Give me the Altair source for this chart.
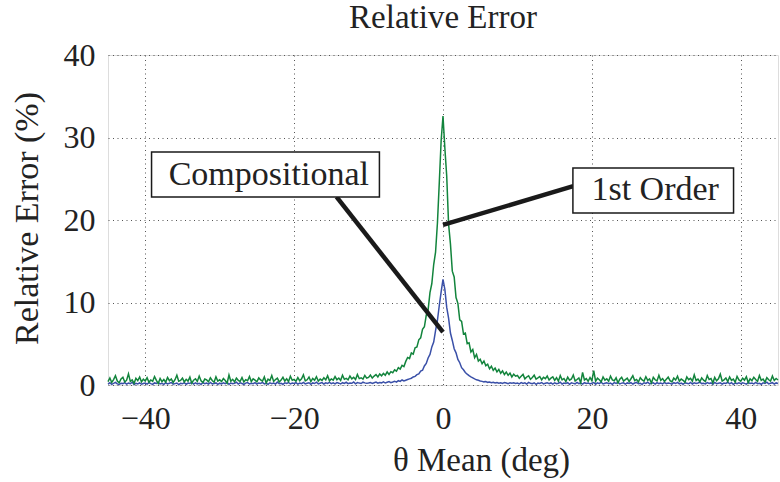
import altair as alt
import pandas as pd

chart_title = ["Relative Error"]

# sample positions (deg), step 0.25 from -45 to 45
theta = [-45 + 0.25 * i for i in range(361)]

# 1st Order relative error (%)
first_order = [
    0.42, 0.85, 0.31, 0.66, 1.12, 0.48, 0.27, 0.74, 0.93, 0.36,
    0.58, 1.35, 0.44, 0.62, 0.19, 0.81, 0.53, 0.97, 0.38, 0.71,
    0.49, 0.88, 0.33, 0.61, 0.45, 1.02, 0.57, 0.18, 0.79, 0.41,
    0.67, 0.35, 0.92, 0.52, 0.73, 0.31, 0.64, 1.18, 0.46, 0.55,
    0.83, 0.37, 0.69, 0.47, 0.95, 0.22, 0.58, 0.76, 0.43, 1.08,
    0.51, 0.29, 0.72, 0.62, 0.39, 0.87, 0.54, 0.34, 0.99, 0.48,
    0.63, 0.41, 0.78, 0.55, 0.23, 1.21, 0.46, 0.69, 0.38, 0.84,
    0.57, 0.44, 0.91, 0.36, 0.65, 0.52, 1.04, 0.42, 0.74, 0.59,
    0.39, 0.86, 0.61, 0.47, 0.98, 0.25, 0.71, 0.54, 1.15, 0.43,
    0.66, 0.82, 0.37, 0.59, 0.93, 0.48, 0.76, 0.41, 1.06, 0.57,
    0.68, 0.45, 0.89, 0.52, 0.74, 1.24, 0.49, 0.63, 0.96, 0.41,
    0.79, 0.58, 1.01, 0.46, 0.72, 0.55, 0.87, 0.62, 1.13, 0.51,
    0.73, 0.58, 1.02, 0.64, 0.85, 0.56, 1.18, 0.69, 0.81, 0.62,
    1.09, 0.74, 0.93, 0.66, 1.27, 0.78, 0.88, 0.71, 1.15, 0.84,
    0.92, 1.21, 0.84, 1.08, 1.26, 0.97, 1.34, 1.12, 1.41, 1.19,
    1.58, 1.28, 1.62, 1.49, 1.84, 1.67, 2.11, 1.93, 2.38, 2.24,
    2.86, 3.34, 3.21, 3.88, 3.74, 4.52, 4.61, 5.48, 5.72, 6.74,
    7.06, 8.45, 9.12, 11.2, 12.3, 14.6, 16.1, 19.6, 24.5, 29.6,
    32.6, 28.7, 25.3, 19.5, 17.1, 13.8, 13.1, 10.6, 9.9, 7.9,
    7.7, 6.2, 6.3, 5.0, 5.1, 4.0, 4.3, 3.3, 3.7, 2.9,
    3.12, 2.58, 2.91, 2.34, 2.52, 1.96, 2.27, 1.78, 2.05, 1.59,
    1.88, 1.42, 1.71, 1.27, 1.56, 1.18, 1.44, 0.98, 1.31, 1.07,
    1.16, 0.82, 1.05, 1.28, 0.74, 0.97, 1.12, 0.69, 0.91, 1.19,
    0.72, 0.86, 1.03, 0.63, 0.94, 0.77, 1.09, 0.61, 0.83, 0.98,
    0.56, 0.88, 0.47, 1.14, 0.62, 0.79, 0.41, 0.95, 0.58, 0.73,
    1.21, 0.49, 0.67, 0.86, 0.28, 1.52, 0.61, 0.77, 0.44, 0.91,
    0.53, 1.75, 0.46, 0.82, 0.64, 0.39, 0.97, 0.58, 0.74, 0.45,
    1.08, 0.62, 0.51, 0.88, 0.26, 0.71, 0.94, 0.48, 0.66, 0.83,
    0.42, 0.76, 1.12, 0.54, 0.68, 0.37, 0.89, 0.61, 0.47, 1.01,
    0.57, 0.73, 0.24, 0.92, 0.63, 0.49, 1.17, 0.56, 0.78, 0.43,
    0.69, 0.95, 0.52, 0.38, 0.84, 0.61, 1.06, 0.45, 0.72, 0.57,
    0.33, 0.98, 0.64, 0.81, 0.47, 1.23, 0.55, 0.71, 0.39, 0.87,
    0.58, 0.43, 1.14, 0.67, 0.79, 0.26, 0.92, 0.51, 0.74, 1.31,
    0.48, 0.63, 0.85, 0.41, 0.97, 0.56, 0.72, 0.34, 1.05, 0.62,
    0.47, 0.83, 0.59, 1.01, 0.28, 0.76, 0.52, 0.94, 0.66, 0.44,
    1.16, 0.57, 0.71, 0.35, 0.89, 0.63, 0.48, 1.08, 0.55, 0.79,
    0.61,
]

# Compositional relative error (%)
compositional = [
    0.12, 0.27, 0.08, 0.19, 0.31, 0.14, 0.06, 0.22, 0.17, 0.29,
    0.10, 0.24, 0.15, 0.33, 0.07, 0.21, 0.13, 0.26, 0.09, 0.18,
    0.23, 0.11, 0.28, 0.16, 0.07, 0.25, 0.19, 0.32, 0.12, 0.20,
    0.08, 0.27, 0.14, 0.22, 0.30, 0.10, 0.17, 0.24, 0.06, 0.21,
    0.15, 0.29, 0.09, 0.23, 0.18, 0.34, 0.11, 0.26, 0.13, 0.20,
    0.07, 0.28, 0.16, 0.24, 0.10, 0.31, 0.14, 0.19, 0.25, 0.08,
    0.22, 0.13, 0.27, 0.17, 0.30, 0.09, 0.24, 0.15, 0.21, 0.33,
    0.11, 0.26, 0.18, 0.07, 0.23, 0.29, 0.12, 0.20, 0.16, 0.28,
    0.10, 0.25, 0.19, 0.31, 0.14, 0.22, 0.08, 0.27, 0.17, 0.24,
    0.12, 0.35, 0.15, 0.21, 0.09, 0.26, 0.18, 0.30, 0.13, 0.23,
    0.19, 0.28, 0.11, 0.24, 0.16, 0.32, 0.13, 0.21, 0.27, 0.09,
    0.25, 0.18, 0.34, 0.14, 0.22, 0.29, 0.12, 0.26, 0.20, 0.31,
    0.17, 0.27, 0.14, 0.30, 0.22, 0.12, 0.28, 0.19, 0.33, 0.16,
    0.25, 0.21, 0.36, 0.15, 0.29, 0.23, 0.18, 0.34, 0.26, 0.20,
    0.24, 0.31, 0.19, 0.28, 0.35, 0.22, 0.30, 0.26, 0.38, 0.24,
    0.33, 0.41, 0.29, 0.37, 0.46, 0.34, 0.52, 0.43, 0.61, 0.49,
    0.58, 0.66, 0.74, 0.82, 0.97, 1.05, 1.26, 1.34, 1.68, 1.79,
    2.31, 2.62, 3.28, 3.71, 4.62, 5.21, 6.58, 7.82, 9.64, 11.3,
    12.8, 11.6, 9.4, 8.1, 6.3, 5.4, 4.4, 3.9, 3.1, 2.7,
    2.1, 1.85, 1.52, 1.31, 1.13, 0.98, 0.86, 0.74, 0.63, 0.57,
    0.49, 0.44, 0.38, 0.41, 0.32, 0.36, 0.28, 0.33, 0.25, 0.30,
    0.22, 0.27, 0.19, 0.31, 0.24, 0.16, 0.28, 0.21, 0.26, 0.18,
    0.23, 0.14, 0.29, 0.18, 0.26, 0.11, 0.32, 0.20, 0.15, 0.27,
    0.09, 0.24, 0.19, 0.30, 0.13, 0.22, 0.28, 0.16, 0.25, 0.10,
    0.27, 0.15, 0.21, 0.33, 0.12, 0.24, 0.18, 0.29, 0.08, 0.26,
    0.20, 0.14, 0.31, 0.17, 0.23, 0.11, 0.28, 0.19, 0.25, 0.13,
    0.22, 0.30, 0.10, 0.26, 0.17, 0.34, 0.13, 0.21, 0.28, 0.16,
    0.24, 0.09, 0.29, 0.19, 0.32, 0.14, 0.23, 0.27, 0.11, 0.25,
    0.18, 0.28, 0.12, 0.24, 0.31, 0.15, 0.21, 0.08, 0.27, 0.19,
    0.33, 0.14, 0.22, 0.26, 0.10, 0.29, 0.17, 0.23, 0.13, 0.30,
    0.16, 0.25, 0.20, 0.11, 0.28, 0.18, 0.32, 0.14, 0.23, 0.09,
    0.27, 0.21, 0.15, 0.30, 0.12, 0.26, 0.19, 0.24, 0.34, 0.17,
    0.21, 0.13, 0.29, 0.18, 0.25, 0.10, 0.31, 0.16, 0.22, 0.27,
    0.12, 0.24, 0.19, 0.33, 0.14, 0.28, 0.08, 0.23, 0.17, 0.26,
    0.15, 0.27, 0.20, 0.11, 0.29, 0.18, 0.24, 0.13, 0.31, 0.16,
    0.22, 0.09, 0.26, 0.19, 0.34, 0.14, 0.21, 0.28, 0.12, 0.25,
    0.18,
]

x_ticks = [-40, -20, 0, 20, 40]
y_ticks = [0, 10, 20, 30, 40]

# annotation boxes and leader lines (data units)
ann_labels = ["Compositional", "1st Order"]
ann_text_x = [-23.4, 28.5]
ann_text_y = [24.2, 22.4]
box_x1 = [-39.15, 17.45]
box_x2 = [-8.54, 39.03]
box_y1 = [22.79, 20.85]
box_y2 = [28.24, 26.30]
lead_x1 = [-14.3, 17.5]
lead_y1 = [22.8, 24.1]
lead_x2 = [0.0, 0.0]
lead_y2 = [6.4, 19.4]

FONT = "Liberation Serif"
INK = "#222222"

df_first = pd.DataFrame({"theta": theta, "err": first_order})
df_comp = pd.DataFrame({"theta": theta, "err": compositional})
df_box = pd.DataFrame({"theta": box_x1, "theta2": box_x2, "err": box_y1, "err2": box_y2})
df_lead = pd.DataFrame({"theta": lead_x1, "theta2": lead_x2, "err": lead_y1, "err2": lead_y2})
df_text = pd.DataFrame({"theta": ann_text_x, "err": ann_text_y, "label": ann_labels})
df_title = pd.DataFrame({"label": chart_title})

xs = alt.Scale(domain=[-45, 45], nice=False, zero=False)
ys = alt.Scale(domain=[0, 40], nice=False)

x_axis = alt.Axis(
    values=x_ticks, title="θ Mean (deg)", grid=True, gridColor="#555555",
    gridDash=[1, 3.5], gridWidth=1, ticks=False, domain=False,
    labelFont=FONT, labelFontSize=32, labelColor=INK, labelPadding=43,
    labelBaseline="alphabetic", labelFlush=False, labelOverlap=False,
    titleFont=FONT, titleFontSize=33, titleFontWeight="normal", titleColor=INK,
    titleX=373, titleY=85, titleBaseline="alphabetic", titleAlign="center",
)
y_axis = alt.Axis(
    values=y_ticks, title="Relative Error (%)", grid=True, gridColor="#555555",
    gridDash=[1, 3.5], gridWidth=1, ticks=False, domain=False,
    labelFont=FONT, labelFontSize=32, labelColor=INK, labelPadding=13,
    labelBaseline="middle", labelFlush=False, labelOverlap=False,
    titleFont=FONT, titleFontSize=34, titleFontWeight="normal", titleColor=INK,
    titleX=-71, titleY=163, titleAngle=270, titleBaseline="alphabetic", titleAlign="center",
)

X = alt.X("theta:Q", scale=xs, axis=x_axis)
Y = alt.Y("err:Q", scale=ys, axis=y_axis)

comp_line = alt.Chart(df_comp).mark_line(color="#3a50a8", strokeWidth=1.5).encode(x=X, y=Y)
first_line = alt.Chart(df_first).mark_line(color="#12843c", strokeWidth=1.5).encode(x=X, y=Y)

leads = alt.Chart(df_lead).mark_rule(color="#1a1a1a", strokeWidth=4.5).encode(
    x=X, x2="theta2:Q", y=Y, y2="err2:Q"
)
boxes = alt.Chart(df_box).mark_rect(fill="white", stroke="#1a1a1a", strokeWidth=1.5).encode(
    x=X, x2="theta2:Q", y=Y, y2="err2:Q"
)
texts = alt.Chart(df_text).mark_text(
    font=FONT, fontSize=34, color=INK, baseline="alphabetic", align="center"
).encode(x=X, y=Y, text="label:N")

title_text = alt.Chart(df_title).mark_text(
    font=FONT, fontSize=33, color=INK, baseline="alphabetic", align="center"
).encode(x=alt.value(335), y=alt.value(-27), text="label:N")

chart = alt.layer(comp_line, first_line, leads, boxes, texts, title_text).properties(
    width=670, height=330,
    autosize=alt.AutoSizeParams(type="none"),
    padding={"left": 108, "top": 55, "right": 2, "bottom": 97},
).configure_view(stroke=INK, strokeWidth=1.3).configure(background="white")

chart.save("out.html", embed_options={"renderer": "svg", "actions": False})
